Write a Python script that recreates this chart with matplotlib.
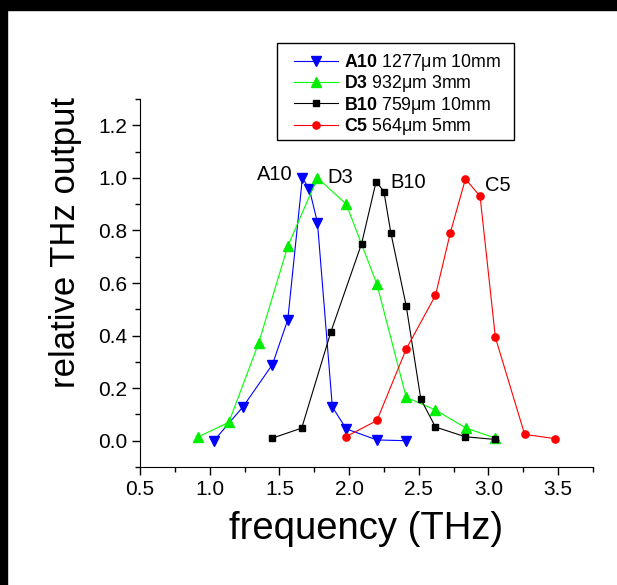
import matplotlib
matplotlib.use('Agg')
import matplotlib.pyplot as plt
from matplotlib.patches import Rectangle
from matplotlib.ticker import MultipleLocator

plt.rcParams['font.family'] = ['Liberation Sans', 'DejaVu Sans']
plt.rcParams['mathtext.fontset'] = 'custom'
plt.rcParams['mathtext.rm'] = 'Liberation Sans'
plt.rcParams['mathtext.bf'] = 'Liberation Sans:bold'

# frequency (THz) and normalised output for each crystal
a10_f = [1.03, 1.24, 1.45, 1.56, 1.665, 1.715, 1.773, 1.88, 1.98, 2.2, 2.41]
a10_y = [0.0, 0.13, 0.29, 0.46, 1.0, 0.957, 0.83, 0.128, 0.045, 0.003, 0.0]

d3_f = [0.914, 1.137, 1.35, 1.56, 1.773, 1.98, 2.2, 2.41, 2.62, 2.84, 3.05]
d3_y = [0.014, 0.07, 0.37, 0.74, 1.0, 0.9, 0.595, 0.165, 0.117, 0.048, 0.01]

b10_f = [1.45, 1.66, 1.87, 2.09, 2.194, 2.25, 2.30, 2.41, 2.515, 2.62, 2.835, 3.045]
b10_y = [0.01, 0.048, 0.415, 0.75, 0.986, 0.948, 0.79, 0.513, 0.158, 0.052, 0.015, 0.005]

c5_f = [1.98, 2.2, 2.41, 2.62, 2.727, 2.835, 2.94, 3.05, 3.26, 3.477]
c5_y = [0.016, 0.077, 0.349, 0.553, 0.792, 0.996, 0.93, 0.393, 0.024, 0.008]

labels = [r'$\mathbf{A10}$ 1277μm 10mm',
          r'$\mathbf{D3}$ 932μm 3mm',
          r'$\mathbf{B10}$ 759μm 10mm',
          r'$\mathbf{C5}$ 564μm 5mm']

W, H = 617, 585
fig = plt.figure(figsize=(W / 100, H / 100), dpi=100)
ax = fig.add_axes([0.227, 0.2017, 0.734, 0.629])

lw = 0.8
h1, = ax.plot(a10_f, a10_y, color='#0000ff', marker='v', ms=7, lw=lw)
h2, = ax.plot(d3_f, d3_y, color='#00ff00', marker='^', ms=7, lw=lw,
              mfc='#00ee00', mec='#00ee00')
h3, = ax.plot(b10_f, b10_y, color='black', marker='s', ms=4.2, lw=lw)
h4, = ax.plot(c5_f, c5_y, color='#ff0000', marker='o', ms=5.2, lw=lw)

ax.text(1.591, 1.011, 'A10', ha='right', va='center', fontsize=14.5)
ax.text(1.842, 1.0, 'D3', ha='left', va='center', fontsize=14.5)
ax.text(2.295, 0.981, 'B10', ha='left', va='center', fontsize=14.5)
ax.text(2.977, 0.970, 'C5', ha='left', va='center', fontsize=14.5)

ax.set_xlim(0.5, 3.75)
ax.set_ylim(-0.1, 1.3)
ax.xaxis.set_major_locator(MultipleLocator(0.5))
ax.xaxis.set_minor_locator(MultipleLocator(0.25))
ax.yaxis.set_minor_locator(MultipleLocator(0.1))
ax.set_yticks([0.0, 0.2, 0.4, 0.6, 0.8, 1.0, 1.2])
ax.set_yticklabels(['0.0', '0.2', '0.4', '0.6', '0.8', '1.0', '1.2'])
ax.tick_params(which='major', direction='out', length=6, width=1, labelsize=15, pad=3)
ax.tick_params(which='minor', direction='out', length=3.5, width=1)
ax.spines['top'].set_visible(False)
ax.spines['right'].set_visible(False)

fig.text(366 / W, 1 - 529 / H, 'frequency (THz)', ha='center', va='center', fontsize=27.5)
fig.text(66 / W, 1 - 242 / H, 'relative THz output', ha='center', va='center',
         rotation=90, fontsize=25)

# legend entries without frame, box drawn separately
leg = fig.legend([h1, h2, h3, h4], labels, loc='upper left',
                 bbox_to_anchor=(294 / W, 1 - 52 / H), borderaxespad=0,
                 frameon=False, fontsize=12.8, borderpad=0,
                 handlelength=2.5, handletextpad=0.3, labelspacing=0.02)
fig.patches.append(Rectangle((277 / W, 1 - 140 / H), (514 - 277) / W, (140 - 43) / H,
                             transform=fig.transFigure, fill=False,
                             edgecolor='black', lw=1, zorder=5))

# black frame along top and left edges
fig.patches.append(Rectangle((0, 1 - 10 / H), 1, 10 / H, transform=fig.transFigure,
                             color='black', zorder=10))
fig.patches.append(Rectangle((0, 0), 7 / W, 1, transform=fig.transFigure,
                             color='black', zorder=10))

fig.savefig('out.png', dpi=100)
